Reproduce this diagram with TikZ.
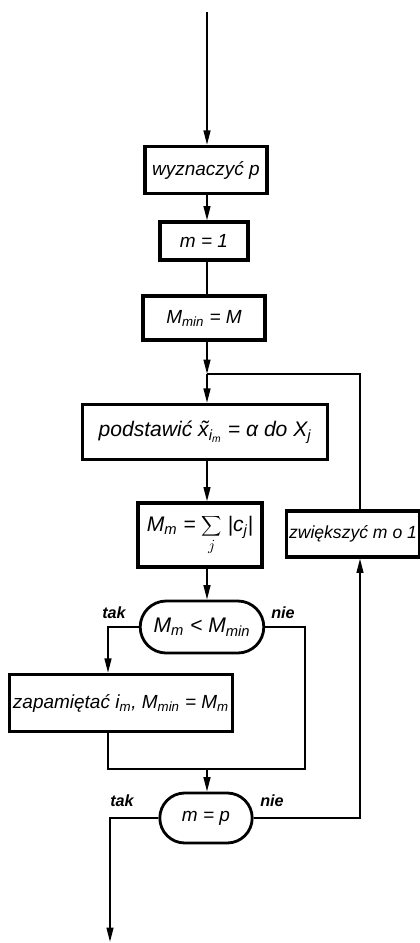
\documentclass[tikz,border=0pt]{standalone}
\usepackage{fontspec}
\setmainfont{Liberation Sans}
\usetikzlibrary{positioning,arrows.meta,shapes.misc}
\newcommand{\lo}[1]{\textsubscript{#1}}

\begin{document}
\begin{tikzpicture}[x=0.025cm, y=-0.025cm, >={Triangle[length=3.6mm,width=1.7mm]},
    font=\fontsize{13.5}{15}\selectfont\itshape,
    box/.style={draw=black, line width=2.2pt, inner sep=2pt, fill=white},
    decision/.style={draw=black, line width=2pt, rounded rectangle, inner sep=2pt},
    flow/.style={line width=1.3pt},
    big/.style={font=\fontsize{15}{17}\selectfont\itshape},
    lbl/.style={font=\fontsize{11.5}{13}\selectfont\itshape\bfseries, inner sep=1pt}]
  \useasboundingbox (0,0) rectangle (420,943);
  % kroki algorytmu
  \node[box, minimum width=3.05cm, minimum height=1.18cm] (wyz) at (206,170) {wyznaczyć p};
  \node[box, minimum width=2.2cm, minimum height=0.95cm] (m1) at (204,241) {m = 1};
  \node[box, minimum width=3.05cm, minimum height=1.1cm] (mmin) at (204,318) {M\lo{min} = M};
  \node[box, big, minimum width=6.13cm, minimum height=1.38cm] (podst) at (205,432)
      {podstawić \~{x}\lo{i\lo{m}} = α do X\lo{j}};
  \node[box, big, minimum width=3.1cm, minimum height=1.6cm] (mm) at (200,535)
      {M\lo{m} = $\displaystyle\sum_{j}$ |c\lo{j}|};
  \node[decision, big, minimum width=3.23cm, minimum height=1.3cm] (dec1) at (202,627)
      {M\lo{m} < M\lo{min}};
  \node[box, minimum width=5.58cm, minimum height=1.43cm] (zap) at (121,703)
      {zapamiętać i\lo{m}, M\lo{min} = M\lo{m}};
  \node[decision, minimum width=2.45cm, minimum height=1.25cm] (dec2) at (206,818) {m = p};
  \node[box, font=\fontsize{12.5}{14}\selectfont\itshape, minimum width=3.25cm,
        minimum height=1.15cm] (zw) at (353,534) {zwiększyć m o 1};
  % punkty zalamania linii
  \coordinate (axis) at (207,0);
  \coordinate (start) at (207,12);
  \coordinate (join) at (207,374);
  \coordinate (tk1) at (108,627);
  \coordinate (nie1) at (305,769);
  \coordinate (join2) at (207,769);
  \coordinate (tk2) at (110,818);
  \coordinate (stop) at (110,942);
  \coordinate (r1) at (360,818);
  \coordinate (r2) at (360,374);
  % glowna sciezka
  \draw[flow, ->] (start) -- (wyz.north -| axis);
  \draw[flow, ->] (wyz.south -| axis) -- (m1.north -| axis);
  \draw[flow] (m1.south -| axis) -- (mmin.north -| axis);
  \draw[flow, ->] (mmin.south -| axis) -- (join);
  \draw[flow, ->] (join) -- (podst.north -| axis);
  \draw[flow, ->] (podst.south -| axis) -- (mm.north -| axis);
  \draw[flow, ->] (mm.south -| axis) -- (dec1.north -| axis);
  % pierwszy warunek
  \draw[flow, ->] (dec1.west) -- (tk1) -- (tk1 |- zap.north);
  \draw[flow] (dec1.east) -| (nie1) -- (join2);
  \draw[flow] (zap.south -| tk1) |- (join2);
  \draw[flow, ->] (join2) -- (dec2.north -| axis);
  % drugi warunek i petla
  \draw[flow, ->] (dec2.west) -- (tk2) -- (stop);
  \draw[flow, ->] (dec2.east) -- (r1) -- (r1 |- zw.south);
  \draw[line width=1pt] (r1 |- zw.north) -- (r2) -- (join);
  % etykiety
  \node[lbl] at (114,613) {tak};
  \node[lbl] at (283,613) {nie};
  \node[lbl] at (122,801) {tak};
  \node[lbl] at (272,801) {nie};
\end{tikzpicture}
\end{document}
